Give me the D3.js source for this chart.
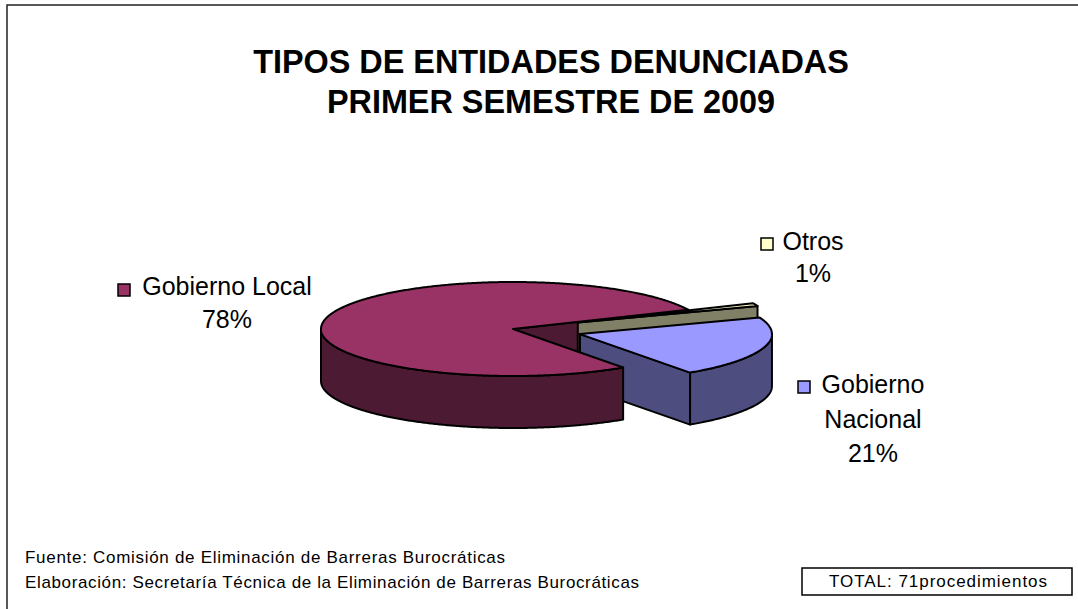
<!DOCTYPE html>
<html>
<head>
<meta charset="utf-8">
<script src="https://cdn.jsdelivr.net/npm/d3@7"></script>
<style>
  html, body { margin: 0; padding: 0; background: #fff; }
  svg { display: block; font-family: "Liberation Sans", Arial, sans-serif; }
</style>
</head>
<body>
<svg id="chart" width="1078" height="609"></svg>
<script>
// ---- data ----
const categories = ["Gobierno Local", "Otros", "Gobierno Nacional"];
const values = [78, 1, 21];              // percent shares
const percentLabels = ["78%", "1%", "21%"];
const exploded = [false, true, true];
const titleLines = ["TIPOS DE ENTIDADES DENUNCIADAS", "PRIMER SEMESTRE DE 2009"];
const footerLines = [
  "Fuente: Comisión de Eliminación de Barreras Burocráticas",
  "Elaboración: Secretaría Técnica de la Eliminación de Barreras Burocráticas"
];
const totalLabel = "TOTAL: 71procedimientos";

// ---- styles ----
const topColors  = ["#993366", "#FFFFCC", "#9999FF"];
const sideColors = ["#4D1A33", "#808066", "#4D4D80"];

const svg = d3.select("#chart");
const W = 1078, H = 609;

// outer frame (right/bottom edges lie outside the picture)
svg.append("rect").attr("x", 7).attr("y", 5).attr("width", W + 10).attr("height", H + 10)
  .attr("fill", "#fff").attr("stroke", "#222").attr("stroke-width", 1.5);

// title
svg.append("g").selectAll("text").data(titleLines).join("text")
  .attr("x", 551).attr("y", (d, i) => 73 + i * 40)
  .attr("text-anchor", "middle").attr("font-weight", "bold").attr("font-size", 32.4)
  .attr("fill", "#000").text(d => d);

// ---- pie geometry ----
const cx = 513, cy = 329, rx = 192, ry = 47, depth = 52, explode = 0.365;
const deg = Math.PI / 180;
const pie = d3.pie().sort(null).value(d => d)
  .startAngle(145 * deg).endAngle(145 * deg + 2 * Math.PI);
const arcs = pie(values);

arcs.forEach((a, i) => {
  const mid = (a.startAngle + a.endAngle) / 2;
  const e = exploded[i] ? explode : 0;
  a.ox = e * rx * Math.sin(mid);
  a.oy = -e * ry * Math.cos(mid);
});

const pt = (a, t, dz = 0) => [cx + a.ox + rx * Math.sin(t), cy + a.oy - ry * Math.cos(t) + dz];
const apex = (a, dz = 0) => [cx + a.ox, cy + a.oy + dz];
const arcPts = (a, t0, t1, dz = 0) => {
  const n = Math.max(2, Math.ceil(Math.abs(t1 - t0) / (0.5 * deg)));
  return d3.range(n + 1).map(k => pt(a, t0 + (t1 - t0) * k / n, dz));
};
const line = d3.line();

const topPath = a => line([apex(a), ...arcPts(a, a.startAngle, a.endAngle)]) + "Z";
const facePath = (a, t) => line([apex(a), pt(a, t), pt(a, t, depth), apex(a, depth)]) + "Z";
const wallPaths = a => {
  // visible parts of the outer wall: front half, angles in [90°, 270°] (+ k·360°)
  const out = [];
  for (let k = 0; k < 3; k++) {
    const lo = (90 + 360 * k) * deg, hi = (270 + 360 * k) * deg;
    const t0 = Math.max(a.startAngle, lo), t1 = Math.min(a.endAngle, hi);
    if (t1 > t0) out.push(line([...arcPts(a, t0, t1), ...arcPts(a, t1, t0, depth)]) + "Z");
  }
  return out;
};

const pieG = svg.append("g")
  .attr("stroke", "#000").attr("stroke-width", 2).attr("stroke-linejoin", "round");

function drawFaces(i) {
  const a = arcs[i];
  if (Math.sin(a.startAngle) < 0)
    pieG.append("path").attr("d", facePath(a, a.startAngle)).attr("fill", sideColors[i]);
  if (Math.sin(a.endAngle) > 0)
    pieG.append("path").attr("d", facePath(a, a.endAngle)).attr("fill", sideColors[i]);
  wallPaths(a).forEach(w => pieG.append("path").attr("d", w).attr("fill", sideColors[i]));
}
function drawTop(i) {
  pieG.append("path").attr("d", topPath(arcs[i])).attr("fill", topColors[i]);
}

// painter's order: back cut face of the big slice, then exploded slices, then big slice front
const a0 = arcs[0];
if (Math.sin(a0.endAngle) > 0)
  pieG.append("path").attr("d", facePath(a0, a0.endAngle)).attr("fill", sideColors[0]);
drawFaces(1); drawTop(1);
drawFaces(2); drawTop(2);
wallPaths(a0).forEach(w => pieG.append("path").attr("d", w).attr("fill", sideColors[0]));
drawTop(0);

// ---- data labels with legend keys ----
const labelSpecs = [
  { cx: 227, lines: [categories[0], percentLabels[0]], y: [295, 328], key: [118, 284] },
  { cx: 813, lines: [categories[1], percentLabels[1]], y: [250, 282], key: [761, 238] },
  { cx: 873, lines: ["Gobierno", "Nacional", percentLabels[2]], y: [393, 428, 462], key: [798, 381] }
];
labelSpecs.forEach((s, i) => {
  const g = svg.append("g");
  s.lines.forEach((t, k) => {
    g.append("text").attr("x", s.cx).attr("y", s.y[k]).attr("text-anchor", "middle")
      .attr("font-size", 25).attr("fill", "#000").text(t);
  });
  g.append("rect").attr("x", s.key[0]).attr("y", s.key[1]).attr("width", 12).attr("height", 12)
    .attr("fill", topColors[i]).attr("stroke", "#000").attr("stroke-width", 1.5);
});

// ---- footer ----
const footerWidths = [480, 614];
svg.append("g").selectAll("text").data(footerLines).join("text")
  .attr("x", 25).attr("y", (d, i) => 563 + i * 25)
  .attr("font-size", 17).attr("fill", "#000")
  .attr("textLength", (d, i) => footerWidths[i]).attr("lengthAdjust", "spacing")
  .text(d => d);

svg.append("rect").attr("x", 802).attr("y", 568).attr("width", 270).attr("height", 27)
  .attr("fill", "#fff").attr("stroke", "#000").attr("stroke-width", 1.5);
svg.append("text").attr("x", 829).attr("y", 587)
  .attr("font-size", 17).attr("fill", "#000")
  .attr("textLength", 218).attr("lengthAdjust", "spacing").text(totalLabel);
</script>
</body>
</html>
